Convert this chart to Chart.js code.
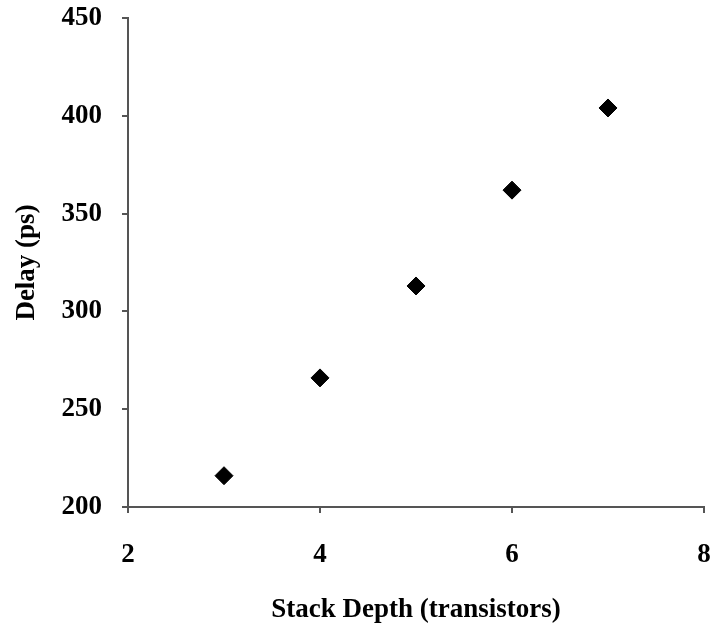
<!DOCTYPE html>
<html lang="en">
<head>
  <meta charset="UTF-8">
  <title>Delay vs Stack Depth</title>
  <script src="https://cdn.jsdelivr.net/npm/chart.js"></script>
  <style>
    html, body { margin: 0; padding: 0; background: #fff; }
    #wrap { width: 714px; height: 627px; }
  </style>
</head>
<body>
  <div id="wrap"><canvas id="delayChart" width="714" height="627"></canvas></div>

  <script>
    // values
    const stackDepth = [3, 4, 5, 6, 7];
    const delayPs = [216, 266, 313, 362, 404];
    const xTicks = [2, 4, 6, 8];
    const yTicks = [200, 250, 300, 350, 400, 450];

    const axisColor = '#555';
    const font = { family: "'Liberation Serif', 'Times New Roman', serif", size: 27, weight: 'bold' };

    const points = stackDepth.map((x, i) => ({ x: x, y: delayPs[i] }));

    const ctx = document.getElementById('delayChart').getContext('2d');
    new Chart(ctx, {
      type: 'scatter',
      data: {
        datasets: [{
          data: points,
          pointStyle: 'rectRot',
          pointRadius: 9,
          pointBackgroundColor: '#000',
          pointBorderColor: '#000',
          pointBorderWidth: 1
        }]
      },
      options: {
        responsive: false,
        animation: false,
        layout: { padding: { top: 18, right: 10 } },
        plugins: { legend: { display: false }, tooltip: { enabled: false } },
        scales: {
          x: {
            type: 'linear',
            min: xTicks[0],
            max: xTicks[xTicks.length - 1],
            afterBuildTicks: s => { s.ticks = xTicks.map(v => ({ value: v })); },
            afterFit: s => { s.height = 120; s.paddingLeft = 0; s.paddingRight = 0; },
            grid: { drawOnChartArea: false, drawTicks: true, tickLength: 6, color: axisColor, lineWidth: 2 },
            border: { color: axisColor, width: 2 },
            ticks: { color: '#000', font: font, padding: 26, maxRotation: 0 },
            title: { display: true, text: 'Stack Depth (transistors)', color: '#000', font: font, padding: { top: 0, bottom: 1 } }
          },
          y: {
            min: yTicks[0],
            max: yTicks[yTicks.length - 1],
            afterBuildTicks: s => { s.ticks = yTicks.map(v => ({ value: v })); },
            afterFit: s => { s.width = 128; s.paddingTop = 0; s.paddingBottom = 0; },
            grid: { drawOnChartArea: false, drawTicks: true, tickLength: 6, color: axisColor, lineWidth: 2 },
            border: { color: axisColor, width: 2 },
            ticks: { color: '#000', font: font, padding: 20 },
            title: { display: true, text: 'Delay (ps)', color: '#000', font: font, padding: { top: 11, bottom: 0 } }
          }
        }
      }
    });
  </script>
</body>
</html>
